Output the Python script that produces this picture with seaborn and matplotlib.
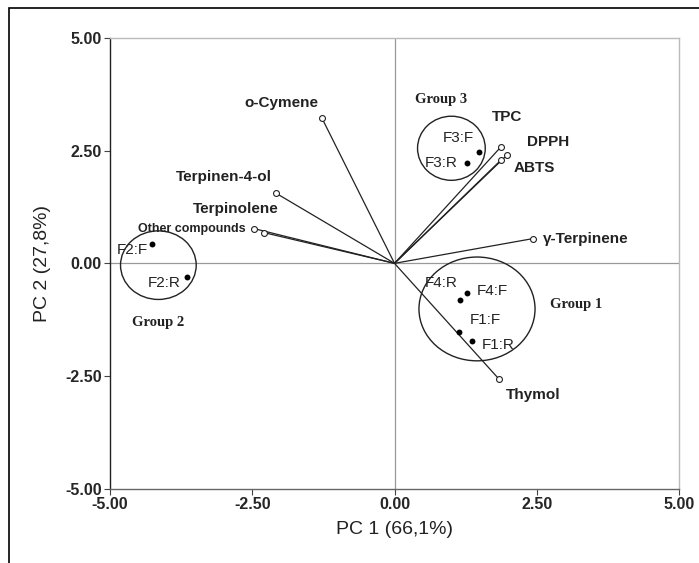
import numpy as np
import pandas as pd
import matplotlib
matplotlib.use("Agg")
import matplotlib.pyplot as plt
import seaborn as sns
from matplotlib.patches import Ellipse, Rectangle

# loadings (open circles, joined to the origin)
var_names = ["o-Cymene", "Terpinen-4-ol", "Terpinolene", "Other compounds",
             "TPC", "DPPH", "ABTS", "γ-Terpinene", "Thymol"]
var_x = [-1.28, -2.09, -2.29, -2.47, 1.87, 1.97, 1.88, 2.44, 1.84]
var_y = [3.23, 1.56, 0.68, 0.77, 2.58, 2.39, 2.30, 0.55, -2.57]

# scores (filled dots)
score_names = ["F3:F", "F3:R", "F2:F", "F2:R", "F4:R", "F4:F", "F1:F", "F1:R"]
score_x = [1.49, 1.28, -4.27, -3.65, 1.15, 1.27, 1.13, 1.37]
score_y = [2.47, 2.22, 0.42, -0.31, -0.81, -0.66, -1.52, -1.72]

# group ellipses
group_names = ["Group 1", "Group 2", "Group 3"]
group_cx = [1.45, -4.15, 1.0]
group_cy = [-1.01, -0.04, 2.55]
group_w = [2.04, 1.33, 1.19]
group_h = [2.30, 1.52, 1.42]

ticks = [-5.0, -2.5, 0.0, 2.5, 5.0]

sns.set_style("white")
plt.rcParams["font.family"] = ["Liberation Sans", "DejaVu Sans"]

fig = plt.figure(figsize=(6.99, 5.63), dpi=100)
ax = fig.add_axes([110 / 699, 1 - 489 / 563, 569 / 699, 451.3 / 563])

# outer frame of the figure
fig.patches.append(Rectangle((9 / 699, -0.01), 1.0, 1 - 8 / 563 + 0.01,
                             transform=fig.transFigure, fill=False,
                             edgecolor="black", linewidth=1.2))

ax.axhline(0, color="#999999", lw=0.9, zorder=0)
ax.axvline(0, color="#999999", lw=0.9, zorder=0)

for x, y in zip(var_x, var_y):
    ax.plot([0, x], [0, y], color="#222222", lw=0.9, zorder=1)

vdf = pd.DataFrame({"x": var_x, "y": var_y})
sns.scatterplot(data=vdf, x="x", y="y", ax=ax, s=18, facecolor="white",
                edgecolor="#222222", linewidth=0.8, zorder=3)

sdf = pd.DataFrame({"x": score_x, "y": score_y})
sns.scatterplot(data=sdf, x="x", y="y", ax=ax, s=18, color="black",
                linewidth=0, zorder=3)

for cx, cy, w, h in zip(group_cx, group_cy, group_w, group_h):
    ax.add_patch(Ellipse((cx, cy), w, h, fill=False, edgecolor="#222222",
                         lw=1.0, zorder=2))

# variable labels
var_lab = {
    "o-Cymene": (-1.98, 3.56, "center"),
    "Terpinen-4-ol": (-3.0, 1.91, "center"),
    "Terpinolene": (-2.79, 1.20, "center"),
    "Other compounds": (-2.61, 0.77, "right"),
    "TPC": (1.72, 3.24, "left"),
    "DPPH": (2.33, 2.69, "left"),
    "ABTS": (2.10, 2.12, "left"),
    "γ-Terpinene": (2.60, 0.55, "left"),
    "Thymol": (1.96, -2.92, "left"),
}
for name in var_names:
    tx, ty, ha = var_lab[name]
    fs = 9 if name == "Other compounds" else 11
    ax.text(tx, ty, name, fontsize=fs, fontweight="bold", ha=ha,
            va="center", color="#222222")

score_lab = {
    "F3:F": (0.84, 2.77), "F3:R": (0.54, 2.22), "F2:F": (-4.89, 0.29),
    "F2:R": (-4.33, -0.43), "F4:R": (0.54, -0.44), "F4:F": (1.44, -0.61),
    "F1:F": (1.33, -1.26), "F1:R": (1.53, -1.81),
}
for name in score_names:
    tx, ty = score_lab[name]
    ax.text(tx, ty, name, fontsize=11, ha="left", va="center", color="#222222")

group_lab = {"Group 1": (3.2, -0.91), "Group 2": (-4.15, -1.32),
             "Group 3": (0.82, 3.62)}
for name in group_names:
    tx, ty = group_lab[name]
    ax.text(tx, ty, name, fontsize=10.5, fontweight="bold", ha="center",
            va="center", family=["Liberation Serif", "DejaVu Serif"],
            color="#222222")

ax.set_xlim(-5, 5)
ax.set_ylim(-5, 5)
ax.set_xticks(ticks)
ax.set_yticks(ticks)
ax.set_xticklabels([f"{t:.2f}" for t in ticks], fontweight="bold", fontsize=11.5)
ax.set_yticklabels([f"{t:.2f}" for t in ticks], fontweight="bold", fontsize=11.5)
ax.tick_params(direction="out", length=4, width=0.8, color="#444444",
               left=True, bottom=True, pad=2)
ax.set_xlabel("PC 1 (66,1%)", fontsize=14, color="#222222", labelpad=6)
ax.set_ylabel("PC 2 (27,8%)", fontsize=14, color="#222222", labelpad=10)

ax.spines["left"].set_color("#222222")
ax.spines["bottom"].set_color("#666666")
ax.spines["top"].set_color("#bbbbbb")
ax.spines["right"].set_color("#bbbbbb")
for s in ax.spines.values():
    s.set_linewidth(1.0)

fig.savefig("out.png", dpi=100)
